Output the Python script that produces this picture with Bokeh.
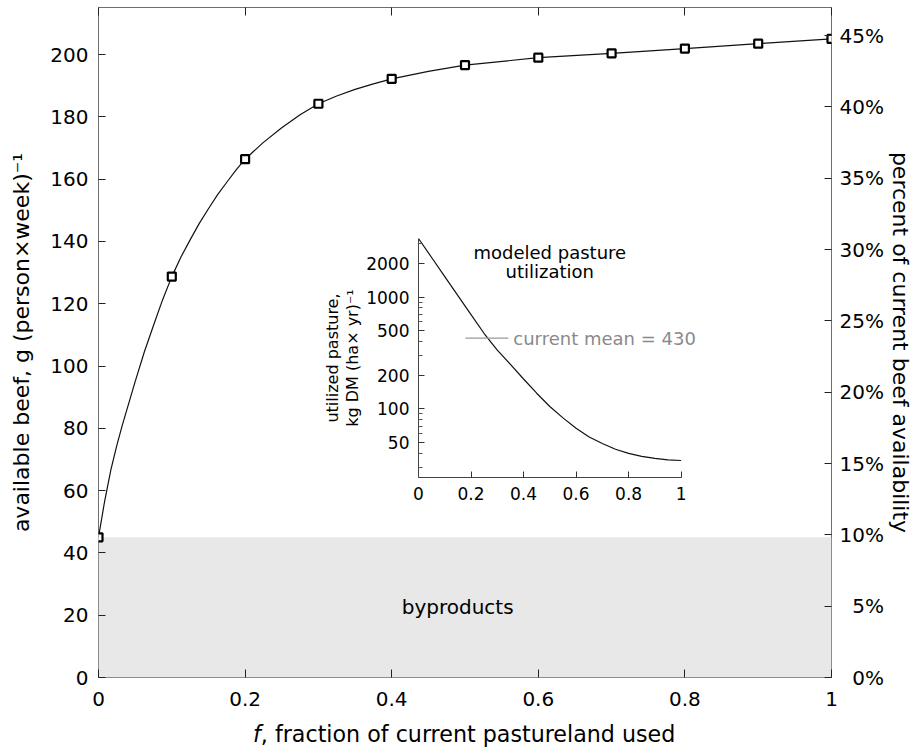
from bokeh.plotting import figure
from bokeh.models import (Range1d, LinearAxis, FixedTicker, NumeralTickFormatter,
                          BasicTickFormatter, Label)
from bokeh.layouts import column
from bokeh.embed import file_html
from bokeh.resources import INLINE

# ---------------- data ----------------
f_markers = [0.0, 0.1, 0.2, 0.3, 0.4, 0.5, 0.6, 0.7, 0.8, 0.9, 1.0]
beef_markers = [45.0, 128.7, 166.4, 184.2, 192.2, 196.6, 199.0, 200.4, 201.9, 203.5, 205.0]

f_curve = [0.0, 0.0083, 0.0167, 0.025, 0.0325, 0.05, 0.0625, 0.075, 0.0875, 0.1,
           0.1125, 0.125, 0.1375, 0.15, 0.1625, 0.175, 0.1875, 0.2, 0.225, 0.25,
           0.275, 0.3, 0.325, 0.35, 0.375, 0.4, 0.45, 0.5, 0.6, 0.7, 0.8, 0.9, 1.0]
beef_curve = [45.0, 56.5, 66.5, 74.5, 81.0, 95.0, 104.5, 113.0, 121.3, 128.7,
              135.0, 140.5, 145.8, 150.5, 155.0, 159.0, 162.9, 166.4, 171.8, 176.5,
              180.7, 184.2, 186.7, 188.8, 190.6, 192.2, 194.6, 196.6, 199.0, 200.4,
              201.9, 203.5, 205.0]

byproducts_beef = 45.0          # g (person x week)^-1 from byproducts
current_beef = 458.0            # current availability = 100 %

x_ticks = [0, 0.2, 0.4, 0.6, 0.8, 1]
y_ticks = [0, 20, 40, 60, 80, 100, 120, 140, 160, 180, 200]
pct_ticks = [0, 5, 10, 15, 20, 25, 30, 35, 40, 45]
pct_labels = ["\u00a0\u00a00%", "\u00a0\u00a05%", "10%", "15%", "20%", "25%",
              "30%", "35%", "40%", "45%"]

inset_f = [0.0, 0.05, 0.1, 0.15, 0.2, 0.25, 0.3, 0.35, 0.4, 0.45, 0.5,
           0.55, 0.6, 0.65, 0.7, 0.75, 0.8, 0.85, 0.9, 0.95, 1.0]
inset_util = [3344, 2260, 1527, 1032, 698, 472, 335, 250, 185, 138, 105,
              83, 67, 56, 49, 43.5, 40, 37.5, 36, 35, 34.5]
inset_x_ticks = [0, 0.2, 0.4, 0.6, 0.8, 1]
inset_y_ticks = [50, 100, 200, 500, 1000, 2000]
inset_y_minor = [30, 40, 60, 70, 80, 90, 300, 400, 600, 700, 800, 900, 3000]
current_mean = 430

FONT = "DejaVu Sans"
TICK_FS = "20px"
TITLE_FS = "22px"
INSET_TICK_FS = "17px"
INSET_TEXT_FS = "18px"
INSET_LABEL_FS = "16px"

# shared horizontal borders (column aligns plot frames)
BORDER_L = 98
BORDER_R = 87
MAIN_W = 918

# ---------------- main figure ----------------
Y_TOP = 215.1
p = figure(width=MAIN_W, height=716, x_range=Range1d(0, 1), y_range=Range1d(0, Y_TOP),
           output_backend="svg", toolbar_location=None,
           min_border_left=BORDER_L, min_border_right=BORDER_R,
           min_border_top=7, min_border_bottom=39,
           outline_line_color="#6e6e6e", outline_line_width=1)
p.grid.visible = False
p.extra_y_ranges = {"pct": Range1d(0, Y_TOP * 100.0 / current_beef)}

# byproducts band
p.varea(x=[0, 1], y1=[0, 0], y2=[byproducts_beef, byproducts_beef], fill_color="#e8e8e8")

p.line(f_curve, beef_curve, line_color="#111111", line_width=1.2)
p.scatter(f_markers, beef_markers, marker="square", size=8, line_color="black",
          line_width=2.2, fill_color="white")

p.add_layout(Label(x=0.49, y=22.5, text="byproducts", text_align="center",
                   text_baseline="middle", text_font=FONT, text_font_size=TICK_FS,
                   text_color="black"))

def style_axis(ax, tick_len=7):
    ax.axis_line_color = None
    ax.major_tick_in = tick_len
    ax.major_tick_out = 0
    ax.minor_tick_in = 0
    ax.minor_tick_out = 0
    ax.major_tick_line_color = "#222222"
    ax.major_tick_line_width = 1
    ax.major_label_text_font = FONT
    ax.major_label_text_font_size = TICK_FS
    ax.major_label_text_color = "black"
    ax.axis_label_text_font = FONT
    ax.axis_label_text_font_size = TITLE_FS
    ax.axis_label_text_font_style = "normal"
    ax.axis_label_text_color = "black"

xa = p.xaxis[0]
style_axis(xa, 8)
xa.ticker = FixedTicker(ticks=x_ticks)
xa.formatter = NumeralTickFormatter(format="0.[0]")
xa.major_label_standoff = 14

ya = p.yaxis[0]
style_axis(ya, 7)
ya.ticker = FixedTicker(ticks=y_ticks)
ya.major_label_standoff = 10
ya.axis_label = "available beef, g (person\u00d7week)\u207b\u00b9"
ya.axis_label_standoff = 13

ra = LinearAxis(y_range_name="pct")
style_axis(ra, 7)
ra.ticker = FixedTicker(ticks=pct_ticks)
ra.major_label_overrides = {t: s for t, s in zip(pct_ticks, pct_labels)}
ra.major_label_standoff = 8
ra.axis_label = "percent of current beef availability"
ra.axis_label_standoff = 1
p.add_layout(ra, "right")

ta = LinearAxis()
style_axis(ta, 8)
ta.ticker = FixedTicker(ticks=x_ticks)
ta.major_label_text_font_size = "1px"
ta.major_label_text_color = None
ta.major_label_standoff = 0
p.add_layout(ta, "above")

# ---------------- x-axis title (italic f) ----------------
tt = figure(width=MAIN_W, height=30, x_range=Range1d(0, 1), y_range=Range1d(0, 1),
            output_backend="svg", toolbar_location=None,
            min_border_left=BORDER_L, min_border_right=BORDER_R,
            min_border_top=0, min_border_bottom=0, outline_line_color=None,
            background_fill_alpha=0, border_fill_alpha=0,
            x_axis_location=None, y_axis_location=None)
tt.grid.visible = False
FRAME_W = MAIN_W - BORDER_L - BORDER_R
TITLE_W_FRAC = 424.0 / FRAME_W
F_W_FRAC = 7.8 / FRAME_W
tx0 = 0.5 - TITLE_W_FRAC / 2
tt.add_layout(Label(x=tx0, y=0.5, text="f", text_font=FONT, text_font_size="22.2px",
                    text_font_style="italic", text_baseline="middle",
                    text_align="left", text_color="black"))
tt.add_layout(Label(x=tx0 + F_W_FRAC, y=0.5, text=", fraction of current pastureland used",
                    text_font=FONT, text_font_size="22.2px", text_baseline="middle",
                    text_align="left", text_color="black"))
tt.styles = {"position": "absolute", "left": "0px", "top": "718px"}

# ---------------- inset ----------------
INSET_PX_PER_UNIT = 263
INSET_X_END = 1.07          # frame reaches past 1 so the note is not clipped
inset = figure(width=BORDER_L + round(INSET_PX_PER_UNIT * INSET_X_END) + BORDER_R,
               height=285, x_range=Range1d(0, INSET_X_END),
               y_range=Range1d(24.3, 3344), y_axis_type="log",
               output_backend="svg", toolbar_location=None,
               min_border_left=BORDER_L, min_border_right=BORDER_R, min_border_top=4,
               min_border_bottom=42, outline_line_color=None,
               background_fill_alpha=0, border_fill_alpha=0)
inset.grid.visible = False
inset.line(inset_f, inset_util, line_color="#111111", line_width=1.2)
inset.segment(x0=0.179, y0=current_mean, x1=0.342, y1=current_mean,
              line_color="#999999", line_width=1.2)
inset.add_layout(Label(x=0.361, y=current_mean, text=f"current mean = {current_mean}",
                       text_font=FONT, text_font_size=INSET_TEXT_FS, text_color="#8a8a8a",
                       text_baseline="middle", text_align="left"))
inset.add_layout(Label(x=0.5, y=236, x_units="data", y_units="screen",
                       text="modeled pasture\nutilization", text_font=FONT,
                       text_font_size=INSET_TEXT_FS, text_align="center",
                       text_baseline="top", text_line_height=0.95, text_color="black"))

ix = inset.xaxis[0]
ix.ticker = FixedTicker(ticks=inset_x_ticks)
ix.formatter = NumeralTickFormatter(format="0.[0]")
ix.bounds = (0, 1)
iy = inset.yaxis[0]
iy.ticker = FixedTicker(ticks=inset_y_ticks, minor_ticks=inset_y_minor)
iy.formatter = BasicTickFormatter()
for ax in (ix, iy):
    ax.axis_line_color = "#444444"
    ax.major_tick_in = 6
    ax.major_tick_out = 0
    ax.minor_tick_in = 0
    ax.minor_tick_out = 0
    ax.major_tick_line_color = "#333333"
    ax.major_label_text_font = FONT
    ax.major_label_text_font_size = INSET_TICK_FS
    ax.major_label_text_color = "black"
    ax.axis_label_text_font = FONT
    ax.axis_label_text_font_size = INSET_LABEL_FS
    ax.axis_label_text_font_style = "normal"
    ax.axis_label_text_color = "black"
iy.minor_tick_in = 4
iy.minor_tick_line_color = "#555555"
ix.major_label_standoff = 9
iy.major_label_standoff = 9
iy.axis_label = "utilized pasture,\nkg DM (ha\u00d7 yr)\u207b\u00b9"
iy.axis_label_standoff = 1
iy.axis_label_text_line_height = 1.05

inset.styles = {"position": "absolute", "left": f"{418 - BORDER_L}px", "top": "234px"}

layout = column(p, inset, tt)
open("out.html", "w").write(file_html(layout, INLINE))
